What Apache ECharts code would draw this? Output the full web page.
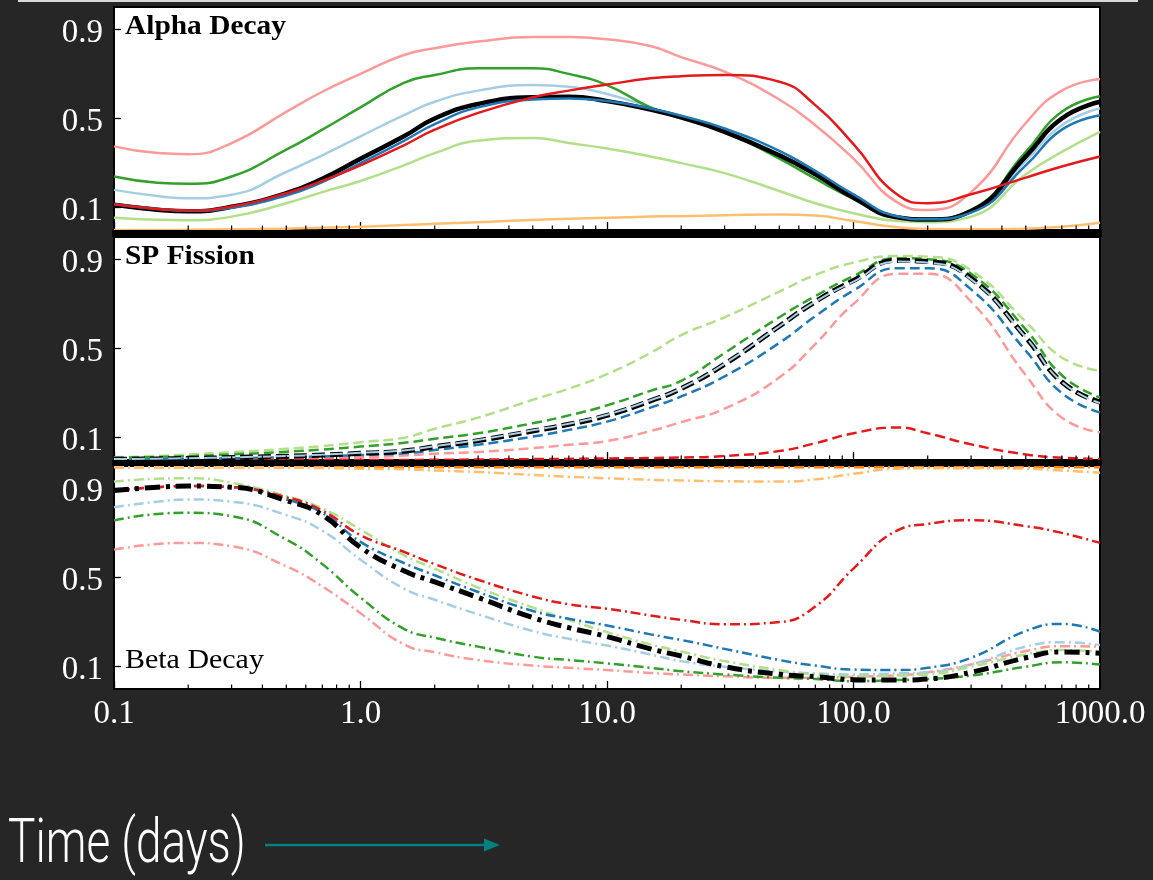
<!DOCTYPE html>
<html>
<head>
<meta charset="utf-8">
<script src="https://cdn.jsdelivr.net/npm/echarts@6/dist/echarts.min.js"></script>
<style>
html,body{margin:0;padding:0;background:#262626;}
#chart{width:1153px;height:880px;}
</style>
</head>
<body>
<div id="chart"></div>
<script>
// ---------- DATA ----------
const xDays = [0.1, 0.15, 0.2, 0.3, 0.5, 0.7, 1, 1.5, 2, 3, 5, 7, 10, 15, 20, 30, 50, 70, 100, 150, 200, 300, 500, 700, 1000];
const xTickLabels = ['0.1', '1.0', '10.0', '100.0', '1000.0'];
const yTickValues = [0.1, 0.5, 0.9];
const minorTickValues = [0.2,0.3,0.4,0.5,0.6,0.7,0.8,0.9, 2,3,4,5,6,7,8,9, 20,30,40,50,60,70,80,90, 200,300,400,500,600,700,800,900];
const panelTitles = ['Alpha Decay', 'SP Fission', 'Beta Decay'];
const axisTitle = 'Time (days)';

// Alpha decay (solid)
const alphaLightBlue   = [0.18,0.152,0.142,0.158,0.26,0.335,0.42,0.515,0.575,0.625,0.65,0.642,0.61,0.55,0.50,0.445,0.34,0.255,0.15,0.06,0.05,0.082,0.31,0.47,0.546];
const alphaBlue        = [0.115,0.094,0.086,0.1,0.155,0.215,0.30,0.40,0.475,0.55,0.585,0.59,0.578,0.545,0.512,0.455,0.355,0.265,0.16,0.062,0.048,0.078,0.29,0.45,0.515];
const alphaLightGreen  = [0.055,0.046,0.044,0.06,0.12,0.17,0.22,0.29,0.345,0.40,0.413,0.39,0.365,0.33,0.30,0.255,0.175,0.12,0.075,0.04,0.035,0.06,0.25,0.35,0.44];
const alphaGreen       = [0.24,0.212,0.207,0.24,0.36,0.45,0.55,0.66,0.695,0.725,0.725,0.70,0.65,0.55,0.505,0.44,0.32,0.23,0.14,0.055,0.05,0.09,0.35,0.53,0.60];
const alphaPink        = [0.375,0.345,0.34,0.39,0.53,0.62,0.70,0.785,0.815,0.845,0.865,0.865,0.855,0.825,0.775,0.71,0.585,0.47,0.32,0.125,0.09,0.17,0.48,0.625,0.677];
const alphaRed         = [0.115,0.094,0.088,0.105,0.165,0.22,0.29,0.38,0.45,0.525,0.595,0.625,0.652,0.68,0.69,0.695,0.665,0.56,0.385,0.16,0.12,0.16,0.235,0.285,0.33];
const alphaLightOrange = [0,0,0.001,0.003,0.006,0.01,0.015,0.022,0.028,0.035,0.045,0.05,0.055,0.06,0.062,0.066,0.07,0.065,0.04,0.012,0.004,0.003,0.006,0.015,0.033];
const alphaBlack       = [0.113,0.091,0.084,0.104,0.165,0.23,0.32,0.42,0.50,0.565,0.595,0.597,0.578,0.54,0.505,0.44,0.335,0.25,0.145,0.057,0.047,0.085,0.33,0.50,0.575];

// Spontaneous fission (dashed)
const spLightGreen = [0.012,0.018,0.025,0.035,0.05,0.062,0.08,0.10,0.14,0.19,0.27,0.32,0.385,0.48,0.56,0.64,0.755,0.83,0.885,0.915,0.912,0.85,0.62,0.46,0.40];
const spGreen      = [0.01,0.013,0.017,0.025,0.037,0.047,0.06,0.077,0.095,0.12,0.165,0.20,0.245,0.31,0.355,0.48,0.64,0.735,0.825,0.905,0.90,0.835,0.585,0.38,0.28];
const spBlack      = [0.003,0.005,0.007,0.011,0.017,0.022,0.03,0.04,0.06,0.087,0.13,0.16,0.20,0.265,0.32,0.43,0.60,0.71,0.805,0.895,0.89,0.815,0.55,0.35,0.26];
const spLightBlue  = [0.004,0.006,0.008,0.012,0.018,0.024,0.032,0.043,0.062,0.09,0.133,0.163,0.203,0.268,0.322,0.432,0.60,0.71,0.80,0.89,0.885,0.81,0.55,0.35,0.255];
const spBlue       = [0.002,0.003,0.005,0.008,0.012,0.016,0.022,0.03,0.045,0.068,0.105,0.135,0.172,0.235,0.285,0.375,0.525,0.645,0.76,0.86,0.86,0.765,0.49,0.30,0.213];
const spPink       = [0,0,0.001,0.002,0.004,0.007,0.012,0.02,0.028,0.036,0.053,0.068,0.085,0.13,0.17,0.23,0.37,0.52,0.70,0.835,0.835,0.71,0.38,0.19,0.124];
const spRed        = [0,0,0,0,0,0,0,0,0.001,0.002,0.004,0.005,0.007,0.009,0.011,0.018,0.04,0.075,0.12,0.146,0.12,0.07,0.025,0.01,0.005];

// Beta decay (dash-dot)
const betaOrange      = [0.994,0.994,0.994,0.994,0.994,0.994,0.994,0.994,0.994,0.994,0.994,0.994,0.994,0.994,0.994,0.994,0.994,0.994,0.994,0.994,0.994,0.994,0.994,0.994,0.994];
const betaLightOrange = [0.995,0.995,0.995,0.994,0.993,0.991,0.988,0.985,0.98,0.973,0.96,0.952,0.945,0.938,0.935,0.932,0.93,0.94,0.965,0.988,0.99,0.99,0.988,0.98,0.97];
const betaLightGreen  = [0.93,0.943,0.945,0.925,0.865,0.81,0.715,0.60,0.54,0.455,0.365,0.31,0.255,0.20,0.168,0.125,0.085,0.065,0.058,0.06,0.065,0.1,0.155,0.175,0.166];
const betaRed         = [0.89,0.905,0.91,0.905,0.86,0.80,0.69,0.615,0.56,0.49,0.415,0.38,0.36,0.33,0.31,0.29,0.30,0.37,0.54,0.71,0.74,0.757,0.73,0.70,0.655];
const betaBlue        = [0.89,0.905,0.91,0.905,0.85,0.79,0.66,0.565,0.51,0.435,0.35,0.315,0.285,0.245,0.22,0.18,0.13,0.105,0.087,0.085,0.095,0.14,0.26,0.292,0.257];
const betaLightBlue   = [0.815,0.84,0.85,0.84,0.78,0.71,0.58,0.45,0.40,0.335,0.26,0.225,0.195,0.155,0.125,0.10,0.078,0.07,0.065,0.07,0.075,0.11,0.19,0.21,0.197];
const betaGreen       = [0.756,0.785,0.79,0.775,0.67,0.56,0.41,0.27,0.23,0.19,0.145,0.13,0.115,0.095,0.08,0.065,0.05,0.045,0.035,0.04,0.045,0.06,0.1,0.12,0.11];
const betaPink        = [0.625,0.65,0.655,0.64,0.55,0.46,0.34,0.2,0.165,0.13,0.105,0.095,0.085,0.072,0.065,0.057,0.05,0.05,0.055,0.062,0.075,0.11,0.17,0.192,0.19];
const betaBlack       = [0.89,0.905,0.91,0.905,0.845,0.78,0.635,0.53,0.48,0.41,0.32,0.275,0.235,0.18,0.148,0.10,0.066,0.055,0.042,0.04,0.045,0.075,0.14,0.166,0.16];

// ---------- STYLE ----------
const C = {lightBlue:'#a6cee3', blue:'#1f78b4', lightGreen:'#b2df8a', green:'#33a02c', pink:'#fb9a99', red:'#e31a1c', lightOrange:'#fdbf6f', orange:'#ff7f00', black:'#000000'};
const DASH = [10, 5];
const DASH_BLACK = [13, 5];
const DASHDOT = [10, 4, 2, 4];
const DASHDOT_BLACK = [15, 6, 4, 6];
const gridTops = [7, 237, 466];
const GRID_LEFT = 114, GRID_W = 986, GRID_H = 223;
const serif = '"Liberation Serif", "DejaVu Serif", serif';

const pair = arr => xDays.map((x, i) => [x, arr[i]]);
function line(name, arr, g, color, width, dash, z) {
  return {
    name, type: 'line', xAxisIndex: g, yAxisIndex: g, data: pair(arr),
    symbol: 'none', showSymbol: false, smooth: 0.5,
    lineStyle: { color, width, type: dash, cap: 'butt', join: 'round' }, z: z || 2, silent: true
  };
}

const series = [
  // Alpha
  line('Alpha lightblue', alphaLightBlue, 0, C.lightBlue, 2.5, 'solid'),
  line('Alpha lightgreen', alphaLightGreen, 0, C.lightGreen, 2.5, 'solid'),
  line('Alpha pink', alphaPink, 0, C.pink, 2.5, 'solid'),
  line('Alpha lightorange', alphaLightOrange, 0, C.lightOrange, 2.5, 'solid'),
  line('Alpha green', alphaGreen, 0, C.green, 2.5, 'solid'),
  line('Alpha black', alphaBlack, 0, C.black, 4.5, 'solid', 3),
  line('Alpha blue', alphaBlue, 0, C.blue, 2.5, 'solid', 4),
  line('Alpha red', alphaRed, 0, C.red, 2.5, 'solid', 5),
  // SP fission
  line('SP lightgreen', spLightGreen, 1, C.lightGreen, 2.5, DASH),
  line('SP pink', spPink, 1, C.pink, 2.5, DASH),
  line('SP red', spRed, 1, C.red, 2.5, DASH),
  line('SP blue', spBlue, 1, C.blue, 2.5, DASH),
  line('SP green', spGreen, 1, C.green, 2.5, DASH),
  line('SP black', spBlack, 1, C.black, 5, DASH_BLACK, 3),
  line('SP lightblue', spLightBlue, 1, C.lightBlue, 2, DASH_BLACK, 4),
  // Beta
  line('Beta orange', betaOrange, 2, C.orange, 2.5, DASHDOT),
  line('Beta lightorange', betaLightOrange, 2, C.lightOrange, 2.5, DASHDOT),
  line('Beta pink', betaPink, 2, C.pink, 2.5, DASHDOT),
  line('Beta green', betaGreen, 2, C.green, 2.5, DASHDOT),
  line('Beta lightblue', betaLightBlue, 2, C.lightBlue, 2.5, DASHDOT),
  line('Beta lightgreen', betaLightGreen, 2, C.lightGreen, 2.5, DASHDOT),
  line('Beta blue', betaBlue, 2, C.blue, 2.5, DASHDOT),
  line('Beta red', betaRed, 2, C.red, 2.5, DASHDOT),
  line('Beta black', betaBlack, 2, C.black, 5, DASHDOT_BLACK, 3)
];

// minor x ticks drawn through the log axis scale
[0, 1, 2].forEach(g => {
  series.push({
    type: 'custom', xAxisIndex: g, yAxisIndex: g, silent: true, z: 10, clip: false,
    data: minorTickValues.map(v => [v, 0]),
    renderItem: (params, api) => {
      const p = api.coord([api.value(0), 0]);
      return { type: 'line', shape: { x1: p[0], y1: p[1], x2: p[0], y2: p[1] - 4.5 },
               style: { stroke: '#000', lineWidth: 1.2 } };
    }
  });
});

const option = {
  animation: false,
  backgroundColor: '#262626',
  grid: gridTops.map(t => ({ left: GRID_LEFT, top: t, width: GRID_W, height: GRID_H, show: true,
    backgroundColor: '#ffffff', borderColor: '#000000', borderWidth: 2 })),
  xAxis: [0, 1, 2].map(g => ({
    type: 'log', logBase: 10, min: 0.1, max: 1000, gridIndex: g,
    axisLine: { show: false }, splitLine: { show: false },
    axisTick: { show: true, inside: true, length: 8, lineStyle: { color: '#000', width: 1.3 } },
    axisLabel: {
      show: g === 2, color: '#ffffff', fontFamily: serif, fontSize: 33, margin: 9,
      showMinLabel: true, showMaxLabel: true, hideOverlap: false,
      formatter: v => xTickLabels[Math.round(Math.log10(v)) + 1]
    }
  })),
  yAxis: [0, 1, 2].map(g => ({
    type: 'value', min: 0, max: 1, gridIndex: g,
    axisLine: { show: false }, splitLine: { show: false },
    axisTick: { show: true, inside: true, length: 7, customValues: yTickValues, lineStyle: { color: '#000', width: 1.3 } },
    axisLabel: { customValues: yTickValues, color: '#ffffff', fontFamily: serif, fontSize: 33, margin: 11,
      verticalAlign: 'top', lineHeight: 8,
      formatter: v => Number(v).toFixed(1) }
  })),
  series,
  graphic: [
    { type: 'rect', shape: { x: 18, y: 0, width: 1120, height: 2 }, style: { fill: '#d9d9d9' }, z: 50 },
    { type: 'rect', shape: { x: 112, y: 230, width: 990, height: 7 }, style: { fill: '#000' }, z: 50 },
    { type: 'rect', shape: { x: 112, y: 460, width: 990, height: 6 }, style: { fill: '#000' }, z: 50 },
    { type: 'text', x: 125, y: 27, z: 60, scaleX: 1.05,
      style: { text: panelTitles[0], font: 'bold 28px ' + serif, fill: '#000', align: 'left', verticalAlign: 'middle' } },
    { type: 'text', x: 125, y: 257, z: 60, scaleX: 1.05,
      style: { text: panelTitles[1], font: 'bold 28px ' + serif, fill: '#000', align: 'left', verticalAlign: 'middle' } },
    { type: 'text', x: 125, y: 661, z: 60, scaleX: 1.07,
      style: { text: panelTitles[2], font: '28px ' + serif, fill: '#000', align: 'left', verticalAlign: 'middle' } },
    { type: 'text', x: 8, y: 846, z: 60, scaleX: 0.74,
      style: { text: axisTitle, font: '300 62px Roboto, "Noto Sans", sans-serif', fill: '#ffffff', align: 'left', verticalAlign: 'middle' } },
    { type: 'line', z: 60, shape: { x1: 265, y1: 845, x2: 487, y2: 845 }, style: { stroke: '#008080', lineWidth: 2.5 } },
    { type: 'polygon', z: 60, shape: { points: [[484, 838.5], [500, 845], [484, 851.5]] }, style: { fill: '#008080' } }
  ]
};

const chart = echarts.init(document.getElementById('chart'), null, { renderer: 'canvas' });
chart.setOption(option);
</script>
</body>
</html>
